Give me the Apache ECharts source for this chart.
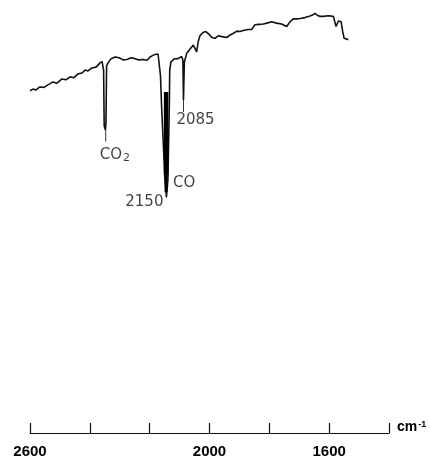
<!DOCTYPE html>
<html>
<head>
<meta charset="utf-8">
<style>
  html, body { margin: 0; padding: 0; background: #fff; }
  #chart { width: 430px; height: 462px; }
</style>
<script src="https://cdn.jsdelivr.net/npm/echarts@6/dist/echarts.min.js"></script>
</head>
<body>
<div id="chart"></div>
<script>
// IR spectrum trace: wavenumber (cm-1) and relative transmittance (%)
const wavenumbers = [
  2600, 2590, 2580, 2567, 2553, 2540, 2523, 2510, 2493, 2480,
  2466, 2453, 2440, 2426, 2416, 2406, 2393, 2379, 2366, 2359,
  2354, 2352, 2348, 2346, 2344, 2339, 2329, 2316, 2302, 2289,
  2276, 2262, 2249, 2236, 2222, 2209, 2199, 2186, 2172, 2167,
  2164, 2160, 2155, 2149, 2144, 2139, 2134, 2133, 2129, 2119,
  2105, 2093, 2089, 2087, 2084, 2076, 2065, 2054, 2048, 2043,
  2038, 2032, 2022, 2012, 2002, 1992, 1982, 1971, 1958, 1942,
  1931, 1920, 1908, 1898, 1884, 1871, 1859, 1848, 1835, 1820,
  1808, 1792, 1776, 1759, 1742, 1731, 1720, 1708, 1697, 1681,
  1664, 1656, 1647, 1639, 1631, 1621, 1608, 1597, 1586, 1580,
  1577, 1569, 1560, 1555, 1550, 1544, 1536
];
const transmittance = [
  80.9, 81.3, 81.1, 81.8, 81.7, 82.3, 83.0, 82.7, 83.7, 83.5,
  84.2, 84.0, 84.9, 85.1, 85.8, 85.6, 86.3, 86.5, 87.5, 87.8,
  85.8, 72.6, 71.6, 73.3, 86.8, 87.5, 88.5, 88.9, 88.7, 88.2,
  88.3, 88.7, 88.5, 88.2, 88.3, 88.1, 88.9, 89.4, 89.6, 89.4,
  84.6, 77.1, 69.3, 59.8, 55.8, 59.8, 78.7, 85.8, 87.7, 88.4,
  88.5, 89.0, 88.2, 78.7, 87.7, 89.8, 90.8, 91.7, 92.1, 90.1,
  92.4, 93.9, 94.7, 94.9, 94.3, 93.5, 93.3, 93.9, 93.7, 93.5,
  94.1, 94.5, 95.0, 94.9, 95.2, 95.4, 95.4, 96.5, 96.6, 96.7,
  96.9, 97.2, 96.9, 96.7, 96.1, 97.2, 97.9, 97.9, 98.0, 98.2,
  98.6, 98.8, 99.2, 98.7, 98.5, 98.5, 98.6, 98.6, 98.5, 98.1,
  96.1, 97.4, 97.2, 95.0, 93.3, 93.0, 93.0
];

// Saturated CO band (over-inked pen trace) and its narrower tail
const coBandX = [2145, 2145];
const coBandY = [80.6, 61.0];
const coTailX = [2145, 2145];
const coTailY = [61.0, 57.0];

// Peak leader lines: [wavenumber, from, to]
const leaderLines = [
  [2347, 71.6, 68.9],
  [2087, 78.7, 75.9],
  [2144, 55.8, 55.6]
];

// Peak annotations
const peakNames = ['{a|CO}{s|2}', '2085', 'CO', '2150'];
const peakX = [2347, 2087, 2145, 2144];
const peakY = [68.9, 75.9, 61.0, 55.6];

// Axis tick labels
const tickLabels = ['2600', '2000', '1600'];

const zip = (xs, ys) => xs.map((x, i) => [x, ys[i]]);

const labelPlacement = [
  { align: 'left',  verticalAlign: 'top',    offset: [-6, 6] },
  { align: 'left',  verticalAlign: 'top',    offset: [-7, 1] },
  { align: 'left',  verticalAlign: 'middle', offset: [7, 8] },
  { align: 'right', verticalAlign: 'middle', offset: [-3, 4] }
];

const annotationData = peakNames.map((name, i) => ({
  value: [peakX[i], peakY[i]],
  name: name,
  label: labelPlacement[i]
}));

const leaderSeries = leaderLines.map(([x, y0, y1]) => ({
  type: 'line',
  data: [[x, y0], [x, y1]],
  symbol: 'none',
  lineStyle: { color: '#333', width: 1 },
  silent: true,
  z: 2
}));

const chart = echarts.init(document.getElementById('chart'), null, { renderer: 'canvas' });

chart.setOption({
  animation: false,
  backgroundColor: '#fff',
  grid: { left: 30, right: 41, top: 10, bottom: 29, containLabel: false, outerBoundsMode: 'none' },
  xAxis: {
    type: 'value',
    min: 1400,
    max: 2600,
    interval: 200,
    inverse: true,
    splitLine: { show: false },
    axisLine: { show: true, lineStyle: { color: '#111', width: 1.2 } },
    axisTick: { show: true, inside: true, length: 10, lineStyle: { color: '#111', width: 1.2 } },
    axisLabel: {
      margin: 11,
      color: '#000',
      fontFamily: 'Liberation Sans, Arial, sans-serif',
      fontWeight: 'bold',
      fontSize: 15,
      showMinLabel: true,
      showMaxLabel: true,
      formatter: v => (tickLabels.includes(String(v)) ? String(v) : '')
    },
    // axis is inverted, so the low-wavenumber end (right side) is 'start'
    name: '{a|cm}{b|-1}',
    nameLocation: 'start',
    nameGap: 8,
    nameTextStyle: {
      verticalAlign: 'bottom',
      padding: [0, 0, -2, 0],
      rich: {
        a: { fontFamily: 'Liberation Sans, Arial, sans-serif', fontWeight: 'bold', fontSize: 14, color: '#000' },
        b: { fontFamily: 'Liberation Sans, Arial, sans-serif', fontWeight: 'bold', fontSize: 9, color: '#000', verticalAlign: 'top', padding: [0, 0, 6, 1] }
      }
    }
  },
  yAxis: {
    type: 'value',
    min: 0,
    max: 100,
    show: false
  },
  series: [
    {
      type: 'line',
      data: zip(wavenumbers, transmittance),
      symbol: 'none',
      lineStyle: { color: '#111', width: 1.6 },
      z: 3
    },
    {
      type: 'line',
      data: zip(coBandX, coBandY),
      symbol: 'none',
      lineStyle: { color: '#000', width: 4.5 },
      z: 4
    },
    {
      type: 'line',
      data: zip(coTailX, coTailY),
      symbol: 'none',
      lineStyle: { color: '#000', width: 3 },
      z: 4
    },
    ...leaderSeries,
    {
      type: 'scatter',
      data: annotationData,
      symbolSize: 0,
      silent: true,
      label: {
        show: true,
        formatter: p => p.name,
        color: '#111',
        fontFamily: 'DejaVu Sans, sans-serif',
        fontSize: 15,
        rich: {
          a: { fontFamily: 'DejaVu Sans, sans-serif', fontSize: 15, color: '#111' },
          s: { fontFamily: 'DejaVu Sans, sans-serif', fontSize: 11, color: '#111', verticalAlign: 'bottom', padding: [5, 0, 0, 1] }
        }
      },
      z: 5
    }
  ]
});
</script>
</body>
</html>
